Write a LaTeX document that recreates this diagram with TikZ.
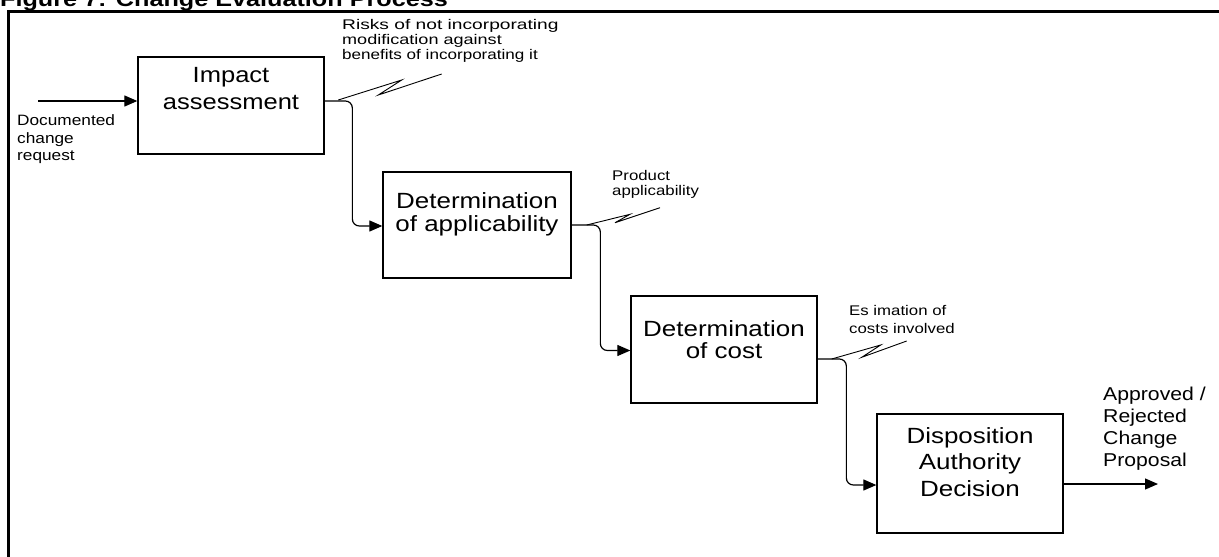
\documentclass[tikz,border=0pt]{standalone}
\usepackage{fontspec}
\setmainfont{Liberation Sans}
\usepackage{graphicx}
\usetikzlibrary{arrows.meta,calc}

% widened multi-line text: #1 horizontal factor, #2 column alignment, #3 lines
\newcommand\wt[3]{\scalebox{#1}[1]{\begin{tabular}[t]{@{}#2@{}}#3\end{tabular}}}
% one widened line
\newcommand\wl[2]{\scalebox{#1}[1]{#2}}

\tikzset{
  procbox/.style={draw, line width=1.3pt, minimum width=186pt, inner sep=0pt},
  boxtext/.style={anchor=base, inner sep=0pt},
  note/.style={anchor=base west, inner sep=0pt},
  flow/.style={line width=1.2pt, rounded corners=7pt,
    -{Triangle[length=13pt,width=11pt]}},
  bolt/.style={line width=0.9pt, line join=miter},
}

\begin{document}
\begin{tikzpicture}[x=1pt,y=-1pt]
\useasboundingbox (0,0) rectangle (1219,557);

% heading and frame
\node[note, font=\bfseries\fontsize{21}{21}\selectfont] (title) at (0,6)
  {\scalebox{1.2}[1]{Figure 7: Change Evaluation Process}};
\draw[line width=3pt] (1219,11) -- (8,11) -- (8,557);

% process boxes
\node[procbox, minimum height=97pt]  (b1) at (231,105.5) {};
\node[procbox, minimum height=106pt, minimum width=188pt] (b2) at (477,225) {};
\node[procbox, minimum height=107pt] (b3) at (724,349.5) {};
\node[procbox, minimum height=119pt] (b4) at (970,473.5) {};

\node[boxtext, font=\fontsize{22}{27}\selectfont] (t1) at ($(b1.north)+(0,26)$)
  {\wt{1.16}{c}{Impact\\assessment}};
\node[boxtext, font=\fontsize{22}{23.3}\selectfont] (t2) at ($(b2.north)+(0,37)$)
  {\wt{1.18}{c}{Determination\\of applicability}};
\node[boxtext, font=\fontsize{22}{21.5}\selectfont] (t3) at ($(b3.north)+(0,41)$)
  {\wt{1.18}{c}{Determination\\of cost}};
\node[boxtext, font=\fontsize{22}{26.5}\selectfont] (t4) at ($(b4.north)+(0,30)$)
  {\wt{1.18}{c}{Disposition\\Authority\\Decision}};

% side notes
\node[note, font=\fontsize{15}{17.5}\selectfont] (nin) at (17,125.7)
  {\wt{1.15}{l}{Documented\\change\\request}};
\node[note, font=\fontsize{14}{15}\selectfont] (n1) at (342,29)
  {\begin{tabular}[t]{@{}l@{}}\wl{1.37}{Risks of not incorporating}\\
   \wl{1.29}{modification against}\\ \wl{1.22}{benefits of incorporating it}\end{tabular}};
\node[note, font=\fontsize{14}{15}\selectfont] (n2) at (612,180)
  {\wt{1.2}{l}{Product\\applicability}};
\node[note, font=\fontsize{14}{18}\selectfont] (n3) at (849,315)
  {\wt{1.2}{l}{Es imation of\\costs involved}};
\node[note, font=\fontsize{18.6}{22}\selectfont] (nout) at (1103,400)
  {\wt{1.14}{l}{Approved /\\Rejected\\Change\\Proposal}};

% flow connectors
\coordinate (in) at (38,101);
\coordinate (out) at (1158,484);
\draw[flow] (in) -- (in -| b1.west);
\draw[flow] (b1.east |- in) -| ($(b2.west)+(-30,1)$) -- ($(b2.west)+(0,1)$);
\draw[flow] (b2.east) -| ($(b3.west)+(-30,1)$) -- ($(b3.west)+(0,1)$);
\draw[flow] (b3.east |- 0,359) -| ($(b4.west |- 0,485)+(-30,0)$) -- (b4.west |- 0,485);
\draw[flow] (b4.east |- out) -- (out);

% callout bolts from the outputs to their notes
\draw[bolt] (338.3,100) -- (401.7,80) -- (378.3,95) -- (441.7,74);
\draw[bolt] (586.7,225) -- (630,214.3) -- (615,222.7) -- (660,207.7);
\draw[bolt] (831.7,359) -- (880.7,345) -- (861.7,357.3) -- (906.7,341);
\end{tikzpicture}
\end{document}
